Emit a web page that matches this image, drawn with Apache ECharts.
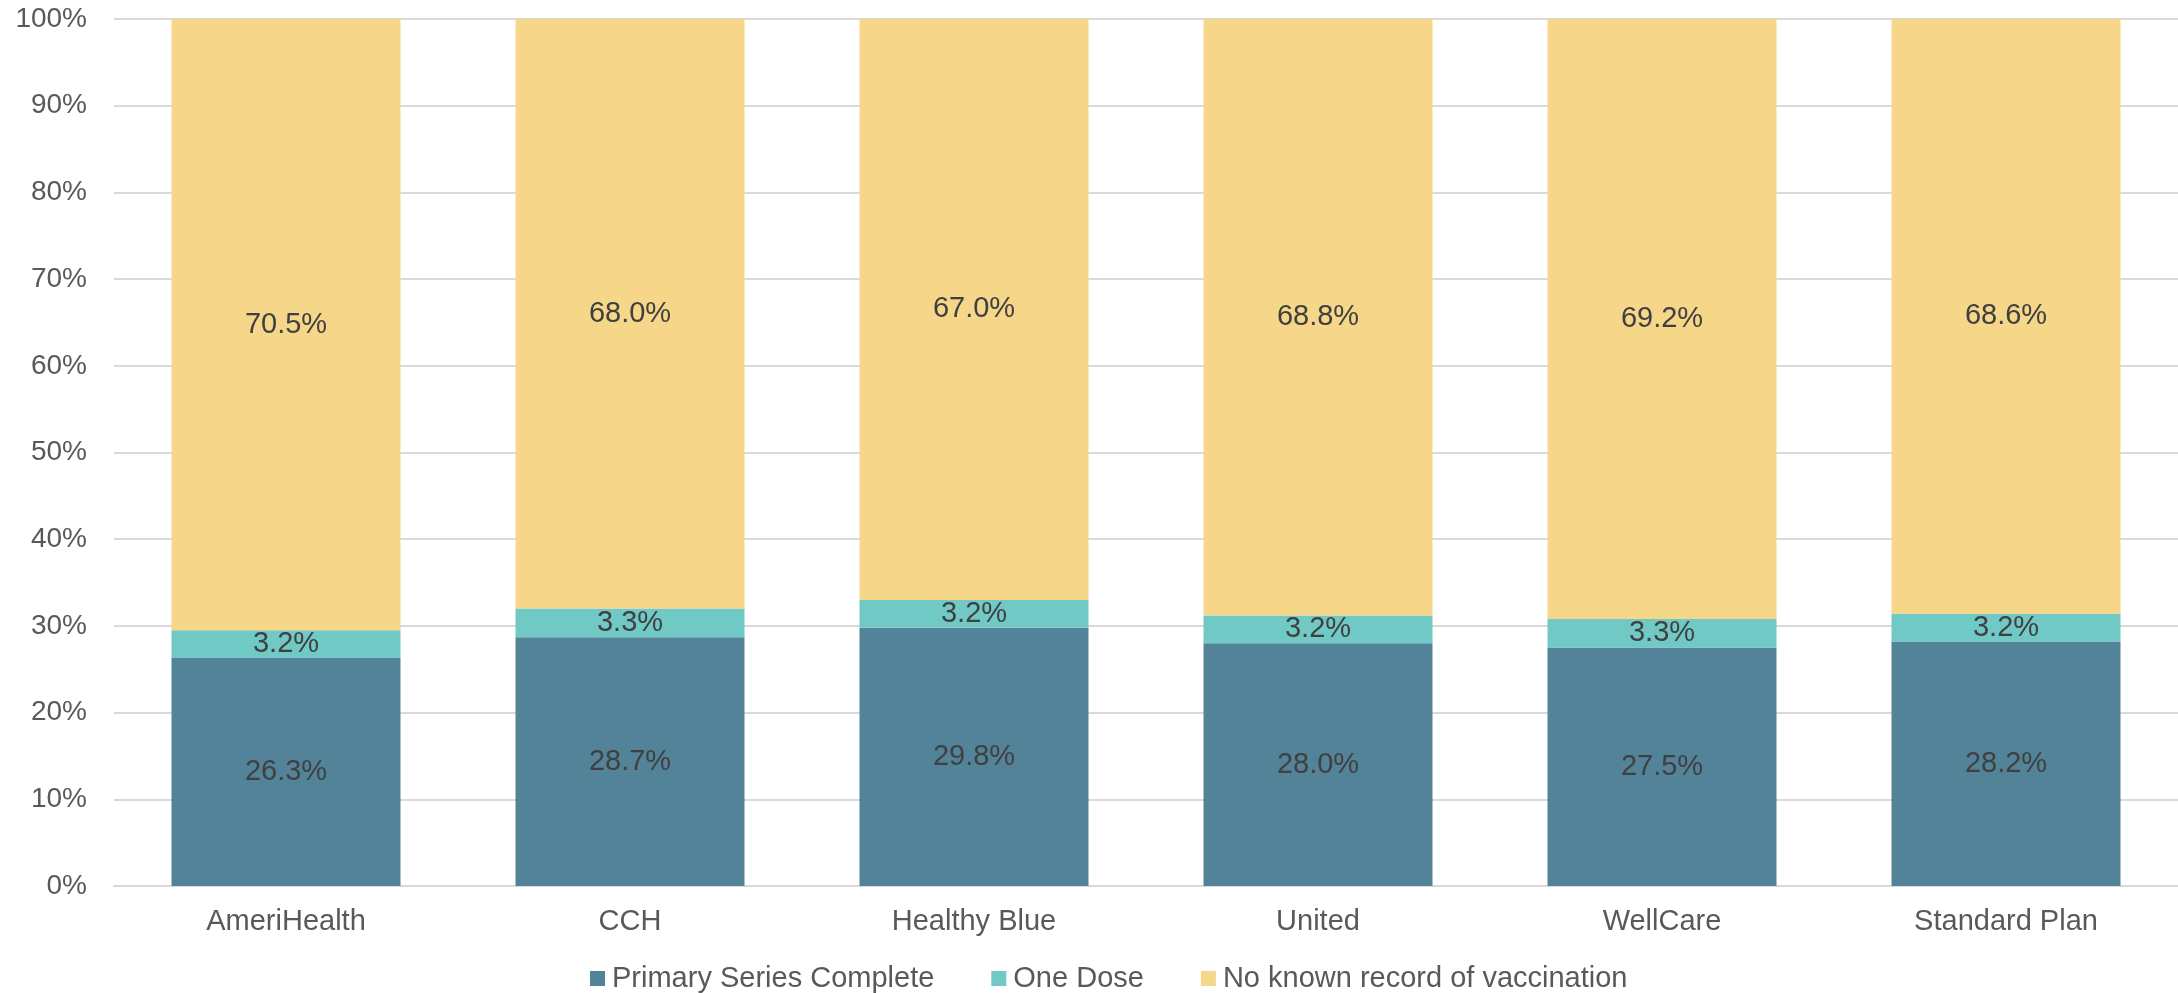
<!DOCTYPE html>
<html>
<head>
<meta charset="utf-8">
<script src="https://cdn.jsdelivr.net/npm/echarts@6/dist/echarts.min.js"></script>
<style>
html,body{margin:0;padding:0;background:#fff;}
#chart{width:2178px;height:993px;}
</style>
</head>
<body>
<div id="chart"></div>
<script>
const categories = ['AmeriHealth', 'CCH', 'Healthy Blue', 'United', 'WellCare', 'Standard Plan'];
const primarySeries = [26.3, 28.7, 29.8, 28.0, 27.5, 28.2];
const oneDose = [3.2, 3.3, 3.2, 3.2, 3.3, 3.2];
const noRecord = [70.5, 68.0, 67.0, 68.8, 69.2, 68.6];
const yTicks = [0, 10, 20, 30, 40, 50, 60, 70, 80, 90, 100];

const font = 'Liberation Sans, Arial, sans-serif';
const chart = echarts.init(document.getElementById('chart'));
const labelCfg = {
  show: true,
  position: 'inside',
  color: '#404040',
  fontSize: 29,
  fontFamily: font,
  formatter: p => p.value.toFixed(1) + '%'
};
function mk(name, data, color) {
  return {
    name, type: 'bar', stack: 'total', data,
    barWidth: 229,
    itemStyle: { color },
    label: labelCfg,
    emphasis: { disabled: true }
  };
}
chart.setOption({
  animation: false,
  grid: { left: 114, right: 0, top: 19, bottom: 107, containLabel: false },
  legend: {
    left: 585, top: 959,
    itemWidth: 15, itemHeight: 15, itemGap: 57,
    icon: 'rect',
    textStyle: { color: '#595959', fontSize: 29, fontFamily: font, padding: [0, 0, 0, 2] },
    data: ['Primary Series Complete', 'One Dose', 'No known record of vaccination']
  },
  xAxis: {
    type: 'category', data: categories,
    axisLine: { lineStyle: { color: '#d9d9d9', width: 2 } },
    axisTick: { show: false },
    axisLabel: { color: '#595959', fontSize: 29, fontFamily: font, margin: 21 }
  },
  yAxis: {
    type: 'value', min: yTicks[0], max: yTicks[yTicks.length - 1], interval: 10,
    axisLine: { show: false }, axisTick: { show: false },
    splitLine: { lineStyle: { color: '#d9d9d9', width: 2 } },
    axisLabel: { color: '#595959', fontSize: 28, fontFamily: font, margin: 27, formatter: v => v + '%' }
  },
  series: [
    mk('Primary Series Complete', primarySeries, '#528399'),
    mk('One Dose', oneDose, '#70C9C5'),
    mk('No known record of vaccination', noRecord, '#F6D789')
  ]
});
</script>
</body>
</html>
